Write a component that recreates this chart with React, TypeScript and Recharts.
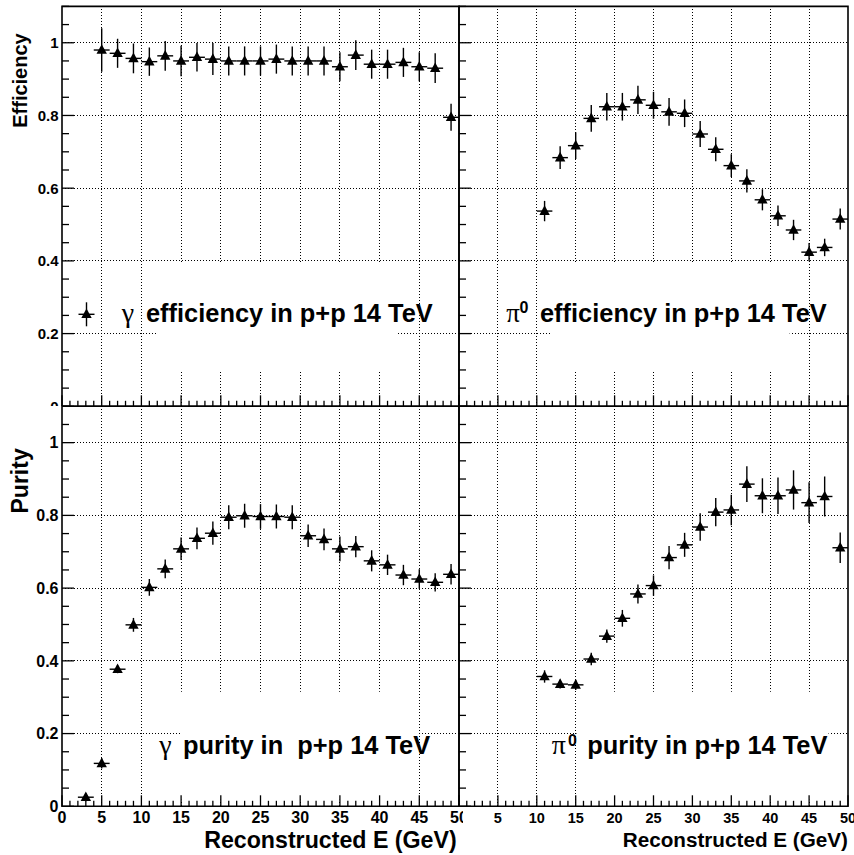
import React from "react";
import {
  ScatterChart,
  Scatter,
  XAxis,
  YAxis,
  CartesianGrid,
  ErrorBar,
  ReferenceArea,
} from "recharts";

const PAGE_W = 854;
const PAGE_H = 855;
const FONT = "'Liberation Sans', Arial, Helvetica, sans-serif";
const GREEK = "'Liberation Serif', 'Times New Roman', serif";

// bin centres (GeV), bins are 2 GeV wide
const BIN_HALF_WIDTH = 1;
const gammaEffE = [5, 7, 9, 11, 13, 15, 17, 19, 21, 23, 25, 27, 29, 31, 33, 35, 37, 39, 41, 43, 45, 47, 49];
const gammaEff = [0.98, 0.971, 0.957, 0.948, 0.964, 0.95, 0.96, 0.955, 0.95, 0.95, 0.95, 0.955, 0.95, 0.95, 0.95, 0.934, 0.966, 0.941, 0.941, 0.946, 0.934, 0.93, 0.795];
const gammaEffErr = [0.06, 0.04, 0.041, 0.039, 0.041, 0.042, 0.039, 0.044, 0.04, 0.04, 0.04, 0.04, 0.04, 0.04, 0.04, 0.04, 0.041, 0.04, 0.04, 0.04, 0.04, 0.041, 0.037];

const piEffE = [11, 13, 15, 17, 19, 21, 23, 25, 27, 29, 31, 33, 35, 37, 39, 41, 43, 45, 47, 49];
const piEff = [0.537, 0.684, 0.717, 0.792, 0.824, 0.824, 0.843, 0.828, 0.81, 0.806, 0.749, 0.707, 0.662, 0.62, 0.568, 0.524, 0.485, 0.424, 0.437, 0.515];
const piEffErr = [0.028, 0.031, 0.037, 0.037, 0.038, 0.038, 0.039, 0.037, 0.038, 0.038, 0.036, 0.033, 0.031, 0.032, 0.029, 0.028, 0.028, 0.025, 0.024, 0.029];

const gammaPurE = [3, 5, 7, 9, 11, 13, 15, 17, 19, 21, 23, 25, 27, 29, 31, 33, 35, 37, 39, 41, 43, 45, 47, 49];
const gammaPur = [0.025, 0.118, 0.377, 0.499, 0.602, 0.653, 0.708, 0.737, 0.751, 0.795, 0.799, 0.797, 0.797, 0.795, 0.744, 0.734, 0.708, 0.714, 0.675, 0.664, 0.636, 0.625, 0.616, 0.638];
const gammaPurErr = [0.011, 0.014, 0.011, 0.019, 0.023, 0.026, 0.031, 0.03, 0.032, 0.033, 0.033, 0.034, 0.033, 0.033, 0.031, 0.03, 0.034, 0.029, 0.029, 0.028, 0.028, 0.027, 0.025, 0.028];

const piPurE = [11, 13, 15, 17, 19, 21, 23, 25, 27, 29, 31, 33, 35, 37, 39, 41, 43, 45, 47, 49];
const piPur = [0.357, 0.336, 0.334, 0.405, 0.468, 0.517, 0.584, 0.607, 0.684, 0.719, 0.768, 0.809, 0.815, 0.886, 0.854, 0.854, 0.87, 0.835, 0.852, 0.711];
const piPurErr = [0.017, 0.012, 0.014, 0.017, 0.018, 0.023, 0.026, 0.028, 0.032, 0.033, 0.038, 0.039, 0.042, 0.049, 0.048, 0.05, 0.054, 0.056, 0.055, 0.042];

// axes
const X_DOMAIN: [number, number] = [0, 50];
const Y_DOMAIN: [number, number] = [0, 1.1];
const xGrid = [5, 10, 15, 20, 25, 30, 35, 40, 45];
const yGrid = [0.2, 0.4, 0.6, 0.8, 1];
const xTicks = Array.from({ length: 51 }, (_, i) => i); // minor every 1, major every 5
const yTicks = Array.from({ length: 23 }, (_, i) => +(i * 0.05).toFixed(2)); // minor every 0.05, major every 0.2

const toPoints = (xs: number[], ys: number[], es: number[]) =>
  xs.map((x, i) => ({ x, y: ys[i], ex: BIN_HALF_WIDTH, ey: es[i] }));

const Triangle = (props: any) => {
  const { cx, cy } = props;
  if (cx == null || cy == null) return <g />;
  return <polygon points={`${cx},${cy - 5.8} ${cx - 5.2},${cy + 3.8} ${cx + 5.2},${cy + 3.8}`} fill="#000" />;
};

const isMajor = (v: number, step: number) => Math.abs(v / step - Math.round(v / step)) < 1e-6;

function makeXTick(showLabels: boolean, fontSize: number, skipZero: boolean) {
  return (p: any) => {
    const v = p.payload.value;
    const major = isMajor(v, 5);
    return (
      <g>
        <line x1={p.x} x2={p.x} y1={p.y} y2={p.y - (major ? 11 : 5.5)} stroke="#000" strokeWidth={1.3} />
        {showLabels && major && !(skipZero && v === 0) && (
          <text x={p.x} y={p.y + 16.6} textAnchor="middle" fontSize={fontSize} fontWeight="bold" fontFamily={FONT} fill="#000">
            {v}
          </text>
        )}
      </g>
    );
  };
}

function makeYTick(showLabels: boolean, fontSize: number) {
  return (p: any) => {
    const v = p.payload.value;
    const major = isMajor(v, 0.2);
    return (
      <g>
        <line x1={p.x} x2={p.x + (major ? 12 : 7)} y1={p.y} y2={p.y} stroke="#000" strokeWidth={1.3} />
        {showLabels && major && (
          <text x={p.x - 3.5} y={p.y} dy="0.36em" textAnchor="end" fontSize={fontSize} fontWeight="bold" fontFamily={FONT} fill="#000">
            {String(Math.round(v * 10) / 10)}
          </text>
        )}
      </g>
    );
  };
}

type PanelProps = {
  data: { x: number; y: number; ex: number; ey: number }[];
  clipW: number;
  clipH: number;
  plot: { left: number; right: number; top: number; bottom: number };
  box: [number, number, number, number];
  xLabels: boolean;
  xFont: number;
  xSkipZero: boolean;
  yLabels: boolean;
  yFont: number;
};

// axes need a non-zero size to be drawn, so they get 1px each
const AXIS_PX = 1;

function Panel({ data, clipW, clipH, plot, box, xLabels, xFont, xSkipZero, yLabels, yFont }: PanelProps) {
  return (
    <div style={{ position: "absolute", left: 0, top: 0, width: clipW, height: clipH, overflow: "hidden" }}>
      <ScatterChart
        width={PAGE_W}
        height={PAGE_H}
        margin={{
          top: plot.top,
          left: plot.left - AXIS_PX,
          right: PAGE_W - plot.right,
          bottom: PAGE_H - plot.bottom - AXIS_PX,
        }}
      >
        <CartesianGrid
          stroke="#000"
          strokeWidth={1}
          strokeDasharray="1 2"
          shapeRendering="crispEdges"
          horizontalValues={yGrid}
          verticalValues={xGrid}
        />
        <ReferenceArea x1={box[0]} x2={box[1]} y1={box[2]} y2={box[3]} fill="#fff" fillOpacity={1} stroke="none" />
        <XAxis
          type="number"
          dataKey="x"
          domain={X_DOMAIN}
          allowDataOverflow
          ticks={xTicks}
          interval={0}
          height={AXIS_PX}
          tickSize={0}
          tickMargin={0}
          axisLine={false}
          tickLine={false}
          tick={makeXTick(xLabels, xFont, xSkipZero)}
        />
        <YAxis
          type="number"
          dataKey="y"
          domain={Y_DOMAIN}
          allowDataOverflow
          ticks={yTicks}
          interval={0}
          width={AXIS_PX}
          tickSize={0}
          tickMargin={0}
          axisLine={false}
          tickLine={false}
          tick={makeYTick(yLabels, yFont)}
        />
        <Scatter data={data} shape={Triangle} isAnimationActive={false}>
          <ErrorBar dataKey="ex" direction="x" width={0} stroke="#000" strokeWidth={1.4} />
          <ErrorBar dataKey="ey" direction="y" width={0} stroke="#000" strokeWidth={1.4} />
        </Scatter>
        <ReferenceArea x1={0} x2={50} y1={0} y2={1.1} fill="none" stroke="#000" strokeWidth={1.6} />
      </ScatterChart>
    </div>
  );
}

const TOP = { top: 6.4, bottom: 406.3 };
const BOTTOM = { top: 406.3, bottom: 806.3 };
const LEFT = { left: 62, right: 459 };
const RIGHT = { left: 459, right: 848 };

export default function App() {
  const bold = { fontFamily: FONT, fontWeight: "bold" as const, fill: "#000" };
  return (
    <div style={{ position: "absolute", left: 0, top: 0, width: PAGE_W, height: PAGE_H, background: "#fff" }}>
      <Panel
        data={toPoints(gammaEffE, gammaEff, gammaEffErr)}
        clipW={463}
        clipH={406}
        plot={{ ...LEFT, ...TOP }}
        box={[12, 42.2, 0.1, 0.395]}
        xLabels={false}
        xFont={15}
        xSkipZero={false}
        yLabels
        yFont={15}
      />
      <Panel
        data={toPoints(piEffE, piEff, piEffErr)}
        clipW={PAGE_W}
        clipH={406}
        plot={{ ...RIGHT, ...TOP }}
        box={[11.9, 42.5, 0.1, 0.395]}
        xLabels={false}
        xFont={14}
        xSkipZero
        yLabels={false}
        yFont={14}
      />
      <Panel
        data={toPoints(gammaPurE, gammaPur, gammaPurErr)}
        clipW={463}
        clipH={PAGE_H}
        plot={{ ...LEFT, ...BOTTOM }}
        box={[14.9, 44.8, 0.018, 0.315]}
        xLabels
        xFont={16}
        xSkipZero={false}
        yLabels
        yFont={16}
      />
      <Panel
        data={toPoints(piPurE, piPur, piPurErr)}
        clipW={PAGE_W}
        clipH={PAGE_H}
        plot={{ ...RIGHT, ...BOTTOM }}
        box={[15.1, 47.5, 0.018, 0.315]}
        xLabels
        xFont={14.5}
        xSkipZero
        yLabels={false}
        yFont={14}
      />
      <svg
        width={PAGE_W}
        height={PAGE_H}
        style={{ position: "absolute", left: 0, top: 0, pointerEvents: "none" }}
      >
        {/* axis titles */}
        <text {...bold} fontSize={20} textAnchor="end" transform="translate(26.7,33.3) rotate(-90)">
          Efficiency
        </text>
        <text {...bold} fontSize={23} textAnchor="end" transform="translate(28.3,448.3) rotate(-90)">
          Purity
        </text>
        <text {...bold} fontSize={23.2} textAnchor="end" x={456.7} y={848}>
          Reconstructed E (GeV)
        </text>
        <text {...bold} fontSize={20.7} textAnchor="end" x={848} y={847}>
          Reconstructed E (GeV)
        </text>

        {/* legend symbol */}
        <line x1={78.5} x2={94.5} y1={314.3} y2={314.3} stroke="#000" strokeWidth={1.4} />
        <line x1={86.5} x2={86.5} y1={302.3} y2={326.3} stroke="#000" strokeWidth={1.4} />
        <polygon points="86.5,308.5 81.3,318.1 91.7,318.1" fill="#000" />

        {/* panel captions */}
        <text fontFamily={GREEK} fontSize={28} x={121.7} y={321.7} fill="#000">γ</text>
        <text {...bold} fontSize={25.4} x={146} y={321.7}>efficiency in p+p 14 TeV</text>

        <text fontFamily={GREEK} fontSize={27} x={506.2} y={321.7} fill="#000">π</text>
        <text {...bold} fontSize={16} x={519.5} y={313.2}>0</text>
        <text {...bold} fontSize={25.4} x={540} y={321.7}>efficiency in p+p 14 TeV</text>

        <text fontFamily={GREEK} fontSize={28} x={159.3} y={754.3} fill="#000">γ</text>
        <text {...bold} fontSize={25.4} x={183} y={754.3} style={{ whiteSpace: "pre" }}>
          {"purity in  p+p 14 TeV"}
        </text>

        <text fontFamily={GREEK} fontSize={28} x={551.7} y={754.3} fill="#000">π</text>
        <text {...bold} fontSize={16} x={568} y={745.8}>0</text>
        <text {...bold} fontSize={25.4} x={587.3} y={754.3}>purity in p+p 14 TeV</text>
      </svg>
    </div>
  );
}
